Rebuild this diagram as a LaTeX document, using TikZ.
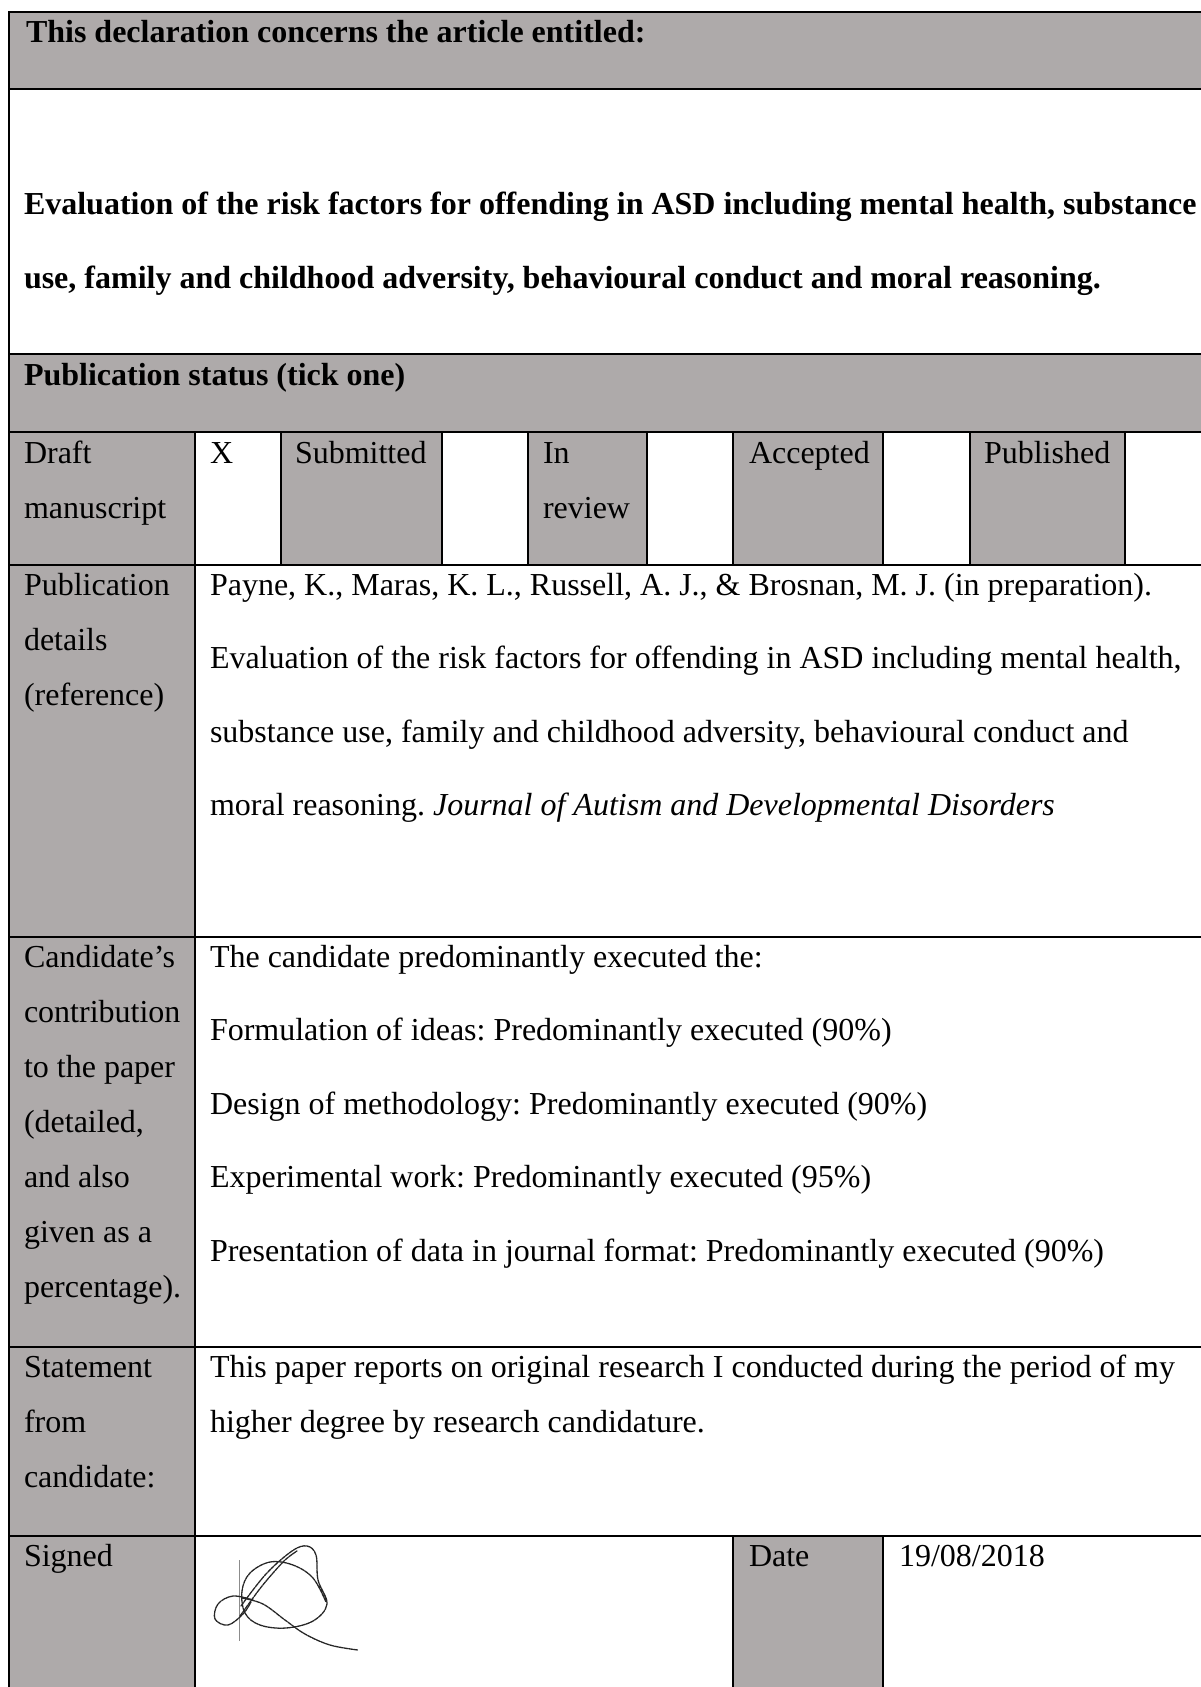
\documentclass[tikz,border=0pt]{standalone}
\usepackage{fontspec}
\setmainfont{Liberation Serif}
\definecolor{cellgray}{HTML}{AEAAAA}
\frenchspacing
\begin{document}
\begin{tikzpicture}[x=1pt,y=-1pt,
  font=\fontsize{32}{38}\selectfont,
  txt/.style={anchor=base west, inner sep=0pt, outer sep=0pt},
  hd/.style={txt, font=\fontsize{32}{38}\selectfont\bfseries},
  gridline/.style={line width=2pt, black},
  sig/.style={line width=1.3pt, black!85, dash pattern=on 4pt off 0.8pt, line cap=round},
  sigthin/.style={line width=0.9pt, black!45}]
\useasboundingbox (0,0) rectangle (1201,1687);
\clip (0,0) rectangle (1201,1687);
% ---- shaded cells
\fill[cellgray] (9,12) rectangle (1215,89);
\fill[cellgray] (9,354) rectangle (1215,432);
\foreach \a/\b in {9/195,281/442,528/647,733/883,970/1125}
  \fill[cellgray] (\a,432) rectangle (\b,565);
\fill[cellgray] (9,565) rectangle (195,1695);
\fill[cellgray] (733,1536) rectangle (883,1695);
% ---- grid lines
\foreach \y in {12,89,354,432,565,937,1347,1536}
  \draw[gridline] (8,\y) -- (1215,\y);
\draw[gridline] (9,11) -- (9,1695);
\foreach \x in {195,281,442,528,647,733,883,970,1125}
  \draw[gridline] (\x,432) -- (\x,565);
\draw[gridline] (195,565) -- (195,1695);
\draw[gridline] (733,1536) -- (733,1695);
\draw[gridline] (883,1536) -- (883,1695);
% ---- header and title
\node[hd] (h1) at (26,42) {This declaration concerns the article entitled:};
\node[hd] (t1) at (24,214) {Evaluation of the risk factors for offending in ASD including mental health, substance};
\node[hd] (t2) at (24,288) {use, family and childhood adversity, behavioural conduct and moral reasoning.};
\node[hd] (ps) at (24,385) {Publication status (tick one)};
% ---- status row
\node[txt] (dr1) at (24,463) {Draft};
\node[txt] (dr2) at (24,518) {manuscript};
\node[txt] (xx) at (210,463) {X};
\node[txt] (sub) at (295,463) {Submitted};
\node[txt] (inr1) at (543,463) {In};
\node[txt] (inr2) at (543,518) {review};
\node[txt] (acc) at (749,463) {Accepted};
\node[txt] (pub) at (984,463) {Published};
% ---- publication details
\node[txt] (pd1) at (24,595) {Publication};
\node[txt] (pd2) at (24,650) {details};
\node[txt] (pd3) at (24,705) {(reference)};
\node[txt] (rf1) at (210,595) {Payne, K., Maras, K. L., Russell, A. J., \& Brosnan, M. J. (in preparation).};
\node[txt] (rf2) at (210,668.6) {Evaluation of the risk factors for offending in ASD including mental health,};
\node[txt] (rf3) at (210,742.2) {substance use, family and childhood adversity, behavioural conduct and};
\node[txt] (rf4) at (210,815.8) {moral reasoning. \textit{Journal of Autism and Developmental Disorders}};
% ---- contribution
\node[txt] (cc1) at (24,967) {Candidate’s};
\node[txt] (cc2) at (24,1022) {contribution};
\node[txt] (cc3) at (24,1077) {to the paper};
\node[txt] (cc4) at (24,1132) {(detailed,};
\node[txt] (cc5) at (24,1187) {and also};
\node[txt] (cc6) at (24,1242) {given as a};
\node[txt] (cc7) at (24,1297) {percentage).};
\node[txt] (cr1) at (210,967) {The candidate predominantly executed the:};
\node[txt] (cr2) at (210,1040.6) {Formulation of ideas: Predominantly executed (90\%)};
\node[txt] (cr3) at (210,1114.2) {Design of methodology: Predominantly executed (90\%)};
\node[txt] (cr4) at (210,1187.8) {Experimental work: Predominantly executed (95\%)};
\node[txt] (cr5) at (210,1261.4) {Presentation of data in journal format: Predominantly executed (90\%)};
% ---- statement
\node[txt] (st1) at (24,1377) {Statement};
\node[txt] (st2) at (24,1432) {from};
\node[txt] (st3) at (24,1487) {candidate:};
\node[txt] (sr1) at (210,1377) {This paper reports on original research I conducted during the period of my};
\node[txt] (sr2) at (210,1432) {higher degree by research candidature.};
% ---- signed row
\node[txt] (sg) at (24,1566) {Signed};
\node[txt] (dt) at (749,1566) {Date};
\node[txt] (dv) at (899,1566) {19/08/2018};
% ---- signature
\draw[sigthin] (239,1560) -- (239,1641);
\draw[sig] plot[smooth, tension=0.6] coordinates {(241,1606) (266,1574) (292,1551) (307,1546) (316,1555) (318,1580) (327,1604) (313,1621) (286,1628) (260,1625) (245,1613) (242,1591) (250,1573) (270,1562) (293,1565) (313,1578) (326,1602)};
\draw[sig] plot[smooth, tension=0.6] coordinates {(253,1600) (233,1596) (218,1604) (215,1619) (228,1625) (243,1614) (251,1602)};
\draw[sig] plot[smooth, tension=0.6] coordinates {(242,1598) (263,1604) (285,1620) (305,1634) (330,1645) (358,1650)};
\draw[sig] plot[smooth, tension=0.5] coordinates {(240,1616) (262,1586) (284,1561) (297,1551)};
\end{tikzpicture}
\end{document}
